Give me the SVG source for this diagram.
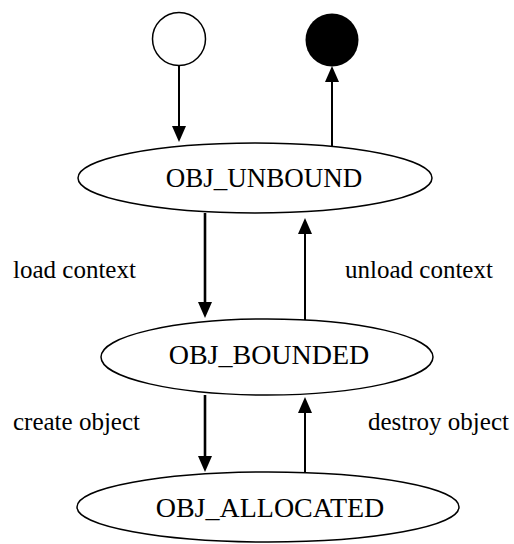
<svg xmlns="http://www.w3.org/2000/svg" width="514" height="544" viewBox="0 0 514 544">
  <style>
    .state { fill: #ffffff; stroke: #000000; stroke-width: 1.5; }
    .name { font-family: "Liberation Serif", "Times New Roman", serif; font-size: 27px; fill: #000000; text-anchor: middle; }
    .name.wide { font-size: 28px; }
    .label { font-family: "Liberation Serif", "Times New Roman", serif; font-size: 25px; fill: #000000; }
    .edge { stroke: #000000; stroke-width: 2; fill: none; }
    .edge.bold { stroke-width: 2.6; }
    .head { fill: #000000; }
  </style>
  <rect width="514" height="544" fill="#ffffff"/>

  <!-- transitions: shaft plus filled triangular head -->
  <g id="connectors">
    <path class="edge" d="M179,66 V128"/>
    <path class="head" d="M172,126 L186,126 L179,142 Z"/>
    <path class="edge" d="M332,151 V80"/>
    <path class="head" d="M325,82 L339,82 L332,66 Z"/>
    <path class="edge bold" d="M205,213 V304"/>
    <path class="head" d="M198,302 L212,302 L205,318 Z"/>
    <path class="edge" d="M305,320 V232"/>
    <path class="head" d="M298,234 L312,234 L305,218 Z"/>
    <path class="edge bold" d="M205,395 V458"/>
    <path class="head" d="M198,456 L212,456 L205,472 Z"/>
    <path class="edge" d="M305,472 V411"/>
    <path class="head" d="M298,413 L312,413 L305,397 Z"/>
    <text class="label" x="13" y="278">load context</text>
    <text class="label" x="345" y="278">unload context</text>
    <text class="label" x="13" y="430">create object</text>
    <text class="label" x="368" y="430">destroy object</text>
  </g>

  <g id="initial">
    <circle cx="179" cy="39" r="26.5" class="state"/>
  </g>
  <g id="final">
    <circle cx="332" cy="40" r="26.5" fill="#000000"/>
  </g>
  <g id="obj_unbound">
    <ellipse cx="255" cy="178" rx="177" ry="35" class="state"/>
    <text class="name" x="264" y="187">OBJ_UNBOUND</text>
  </g>
  <g id="obj_bounded">
    <ellipse cx="267" cy="357" rx="166" ry="38" class="state"/>
    <text class="name wide" x="269" y="364">OBJ_BOUNDED</text>
  </g>
  <g id="obj_allocated">
    <ellipse cx="268" cy="507" rx="191" ry="35" class="state"/>
    <text class="name wide" x="270" y="517">OBJ_ALLOCATED</text>
  </g>
</svg>
